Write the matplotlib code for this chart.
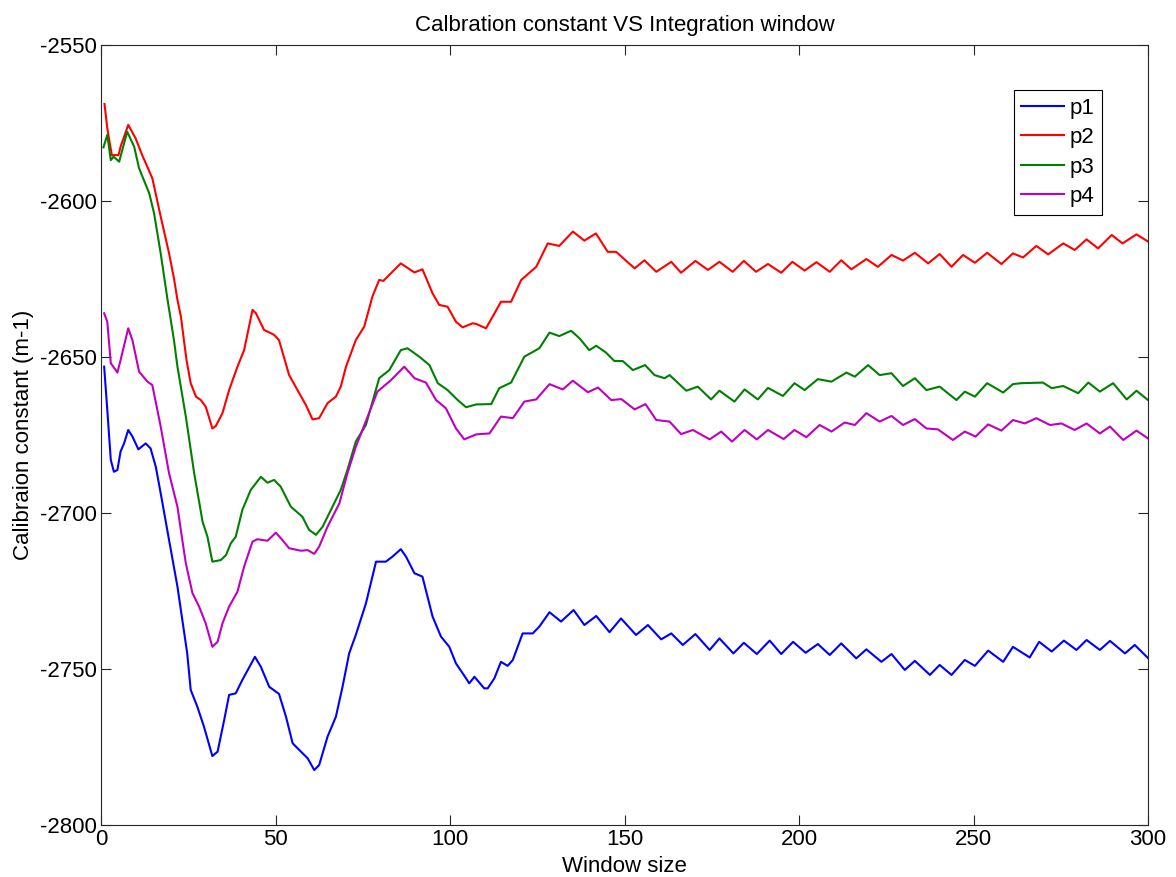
import matplotlib.pyplot as plt

plt.rcParams['font.family'] = ['Liberation Sans', 'DejaVu Sans']
plt.rcParams['axes.unicode_minus'] = False

p1_x = [0.9, 1.8, 2.8, 3.7, 4.7, 5.6, 6.6, 7.8, 9.0, 10.7, 12.8, 14.2, 15.7, 17.1, 19.5, 21.9, 23.3, 24.7,
        25.7, 27.6, 29.5, 31.9, 33.4, 35.3, 36.7, 38.6, 40.5, 44.1, 45.8, 48.2, 51.0, 53.0, 54.9, 57.3,
        59.2, 61.1, 62.5, 64.9, 67.3, 69.2, 71.1, 73.0, 75.9, 78.8, 81.6, 83.5, 85.9, 87.4, 89.8, 92.1,
        95.0, 97.4, 99.8, 101.7, 104.6, 105.5, 107.0, 109.8, 110.8, 112.7, 114.6, 116.5, 118.0, 120.8,
        123.7, 125.6, 128.5, 131.8, 135.4, 138.5, 141.9, 145.7, 149.0, 153.3, 156.7, 160.5, 163.4, 166.7,
        170.3, 174.4, 177.2, 181.2, 184.2, 187.9, 191.6, 194.9, 198.3, 201.9, 205.4, 208.8, 212.1, 216.4,
        219.3, 223.6, 226.5, 230.3, 233.2, 237.5, 240.3, 243.7, 247.5, 250.4, 254.2, 258.5, 261.3, 266.1,
        268.8, 272.4, 275.9, 279.5, 282.4, 286.2, 289.1, 293.4, 296.2, 300.0]
p1_y = [-2653.1, -2667.0, -2683.0, -2686.8, -2686.2, -2680.3, -2677.7, -2673.4, -2675.5, -2679.6, -2677.7,
        -2679.3, -2685.2, -2693.7, -2708.7, -2723.6, -2734.3, -2745.0, -2756.7, -2762.1, -2768.5, -2777.9,
        -2776.5, -2766.3, -2758.3, -2757.8, -2753.5, -2746.1, -2749.3, -2755.7, -2758.0, -2765.3, -2773.8,
        -2776.5, -2778.6, -2782.4, -2780.8, -2771.7, -2765.3, -2755.7, -2745.0, -2739.1, -2729.0, -2715.6,
        -2715.6, -2714.0, -2711.6, -2714.0, -2719.3, -2720.4, -2733.2, -2739.6, -2742.9, -2748.2, -2753.0,
        -2754.6, -2752.5, -2756.2, -2756.2, -2753.0, -2747.7, -2749.0, -2747.1, -2738.6, -2738.6, -2736.4,
        -2731.8, -2734.8, -2731.1, -2735.9, -2733.0, -2738.2, -2733.8, -2739.1, -2735.9, -2740.5, -2738.6,
        -2742.3, -2738.8, -2743.9, -2740.2, -2745.0, -2741.6, -2745.2, -2740.9, -2745.2, -2741.3, -2744.8,
        -2742.0, -2745.5, -2741.8, -2746.6, -2743.7, -2747.7, -2745.2, -2750.3, -2747.4, -2751.9, -2748.7,
        -2751.9, -2747.1, -2749.0, -2744.1, -2747.7, -2742.9, -2746.3, -2741.3, -2744.4, -2740.9, -2743.9,
        -2740.7, -2743.9, -2741.0, -2745.0, -2742.3, -2746.5]

p2_x = [1.0, 1.8, 3.1, 5.0, 5.6, 7.8, 9.9, 11.8, 14.7, 17.1, 19.5, 20.9, 21.9, 22.9, 23.8, 24.5, 25.7,
        27.2, 28.6, 30.0, 31.9, 32.9, 34.8, 36.7, 39.1, 41.0, 43.4, 44.4, 46.7, 49.6, 51.0, 53.9, 56.3,
        58.7, 60.6, 62.5, 64.9, 67.3, 68.7, 70.2, 73.0, 75.4, 77.8, 79.7, 80.9, 85.9, 89.8, 92.1, 95.0,
        96.9, 99.3, 101.7, 103.6, 106.5, 107.5, 110.3, 112.2, 114.6, 117.5, 120.4, 124.7, 128.0, 131.3,
        135.2, 138.5, 141.8, 145.2, 147.6, 152.9, 155.7, 159.1, 163.4, 166.2, 170.3, 173.9, 177.2, 181.0,
        184.2, 187.7, 191.1, 194.9, 198.1, 201.6, 205.0, 208.8, 212.1, 215.0, 219.3, 222.6, 226.5, 229.8,
        233.2, 237.0, 240.3, 243.7, 247.0, 250.4, 253.9, 258.0, 261.3, 264.2, 268.0, 271.4, 275.7, 279.0,
        282.4, 285.7, 289.6, 292.7, 296.7, 300.0]
p2_y = [-2568.9, -2576.7, -2585.3, -2585.3, -2582.6, -2575.6, -2579.9, -2585.3, -2592.7, -2605.0, -2616.8,
        -2624.8, -2631.7, -2637.1, -2645.0, -2651.0, -2658.4, -2662.7, -2663.8, -2665.9, -2672.9, -2672.1,
        -2668.0, -2660.6, -2653.1, -2647.8, -2634.9, -2636.0, -2641.3, -2642.9, -2644.6, -2655.8, -2660.6,
        -2665.4, -2670.0, -2669.6, -2664.8, -2662.7, -2659.5, -2653.1, -2644.6, -2640.3, -2630.5, -2625.3,
        -2625.6, -2620.0, -2622.9, -2621.9, -2629.6, -2633.3, -2633.9, -2638.7, -2640.5, -2639.2, -2639.4,
        -2640.8, -2637.1, -2632.3, -2632.3, -2625.3, -2621.1, -2613.6, -2614.4, -2609.8, -2612.7, -2610.4,
        -2616.3, -2616.3, -2621.6, -2619.0, -2622.7, -2619.5, -2623.0, -2619.2, -2622.1, -2619.5, -2622.7,
        -2619.2, -2622.7, -2620.2, -2623.0, -2619.5, -2622.3, -2619.6, -2622.7, -2619.0, -2621.9, -2618.6,
        -2621.1, -2617.3, -2619.1, -2616.6, -2620.0, -2617.0, -2621.1, -2617.3, -2619.8, -2616.6, -2620.2,
        -2616.8, -2618.1, -2614.4, -2617.1, -2613.6, -2615.7, -2612.3, -2615.2, -2610.9, -2613.6, -2610.7,
        -2613.0]

p3_x = [0.7, 1.8, 2.8, 3.6, 5.2, 7.5, 9.5, 10.9, 13.8, 15.2, 17.1, 19.0, 20.9, 21.9, 24.3, 26.7, 29.1,
        30.5, 31.9, 34.3, 35.8, 37.2, 38.6, 40.5, 42.9, 45.8, 47.7, 49.6, 51.5, 54.4, 57.7, 59.6, 61.6,
        63.5, 66.8, 68.7, 70.6, 73.0, 75.9, 79.7, 82.6, 85.9, 87.8, 91.2, 94.1, 96.5, 99.3, 102.2, 104.6,
        107.5, 111.8, 114.1, 117.5, 121.3, 125.6, 128.5, 131.3, 134.7, 137.1, 139.9, 141.9, 144.7, 147.1,
        149.5, 152.4, 155.9, 158.6, 161.5, 162.9, 167.7, 171.0, 174.8, 177.2, 181.5, 184.4, 188.2, 191.1,
        195.4, 198.7, 201.6, 205.4, 209.3, 213.6, 216.0, 219.8, 223.1, 226.5, 229.8, 233.2, 236.5, 240.3,
        245.1, 247.5, 250.4, 253.9, 258.5, 261.3, 263.6, 269.9, 272.4, 275.7, 280.0, 282.9, 286.2, 290.0,
        293.9, 296.7, 300.0]
p3_y = [-2582.8, -2578.8, -2586.9, -2585.8, -2587.4, -2577.8, -2582.6, -2589.5, -2597.5, -2603.9, -2616.8,
        -2631.2, -2644.6, -2653.1, -2669.1, -2687.3, -2702.8, -2707.6, -2715.6, -2715.1, -2713.5, -2709.7,
        -2707.6, -2699.0, -2692.6, -2688.4, -2690.3, -2689.4, -2691.6, -2698.0, -2701.2, -2705.4, -2707.0,
        -2704.4, -2696.9, -2692.6, -2686.2, -2677.1, -2671.8, -2656.8, -2654.2, -2647.8, -2647.2, -2649.9,
        -2652.6, -2658.4, -2660.6, -2663.8, -2666.1, -2665.2, -2665.1, -2660.0, -2658.2, -2649.9, -2647.2,
        -2642.2, -2643.3, -2641.6, -2644.0, -2647.8, -2646.4, -2648.6, -2651.3, -2651.3, -2654.2, -2652.6,
        -2655.8, -2656.8, -2655.8, -2660.8, -2659.5, -2663.6, -2660.8, -2664.3, -2660.4, -2663.6, -2659.9,
        -2662.5, -2658.4, -2660.6, -2657.1, -2657.9, -2655.0, -2656.3, -2652.6, -2655.8, -2655.2, -2659.3,
        -2656.8, -2660.6, -2659.5, -2663.8, -2661.1, -2662.7, -2658.4, -2661.4, -2658.7, -2658.4, -2658.2,
        -2660.0, -2659.3, -2661.6, -2658.2, -2661.1, -2658.4, -2663.6, -2660.8, -2663.8]

p4_x = [0.9, 1.8, 2.8, 4.7, 5.6, 7.8, 9.0, 10.9, 13.3, 14.7, 17.1, 19.5, 21.9, 23.3, 24.3, 26.2, 28.1,
        30.0, 31.9, 33.4, 34.8, 36.7, 39.1, 41.0, 43.4, 44.8, 47.7, 50.1, 52.0, 53.9, 57.3, 59.2, 61.1,
        62.5, 64.9, 68.3, 70.6, 73.0, 76.4, 79.2, 83.1, 86.9, 89.8, 93.1, 96.0, 98.8, 101.7, 104.1, 107.5,
        111.3, 114.6, 118.0, 121.3, 124.7, 128.5, 132.3, 135.2, 139.5, 142.4, 146.2, 149.1, 152.9, 156.0,
        159.1, 162.9, 166.2, 169.6, 174.4, 177.7, 180.8, 184.4, 187.9, 191.1, 195.6, 198.7, 202.1, 205.9,
        209.3, 213.1, 216.0, 219.3, 223.1, 226.5, 229.8, 233.2, 236.5, 239.8, 244.1, 247.5, 250.6, 254.2,
        258.0, 261.3, 264.7, 268.0, 271.9, 275.2, 279.0, 282.4, 286.2, 289.1, 292.9, 296.7, 300.0]
p4_y = [-2636.0, -2638.7, -2652.0, -2655.0, -2651.0, -2640.8, -2644.6, -2654.7, -2657.9, -2659.0, -2672.3,
        -2687.3, -2698.0, -2708.7, -2716.1, -2725.7, -2730.0, -2735.4, -2742.9, -2741.3, -2735.4, -2730.0,
        -2725.2, -2717.2, -2709.2, -2708.4, -2708.9, -2706.3, -2708.7, -2711.3, -2712.1, -2711.9, -2713.1,
        -2710.8, -2704.4, -2696.9, -2687.3, -2678.8, -2669.1, -2661.1, -2657.4, -2653.1, -2656.8, -2658.2,
        -2663.8, -2666.4, -2672.9, -2676.4, -2674.8, -2674.5, -2669.1, -2669.6, -2664.3, -2663.6, -2658.7,
        -2660.4, -2657.6, -2661.3, -2659.8, -2663.8, -2663.5, -2666.8, -2665.1, -2670.2, -2670.7, -2674.7,
        -2673.4, -2676.4, -2673.9, -2677.1, -2673.4, -2676.4, -2673.4, -2676.3, -2673.4, -2675.7, -2671.8,
        -2673.9, -2671.0, -2671.8, -2668.0, -2670.7, -2668.9, -2671.8, -2669.9, -2672.9, -2673.2, -2676.6,
        -2673.9, -2675.5, -2671.6, -2673.6, -2670.2, -2671.3, -2669.6, -2671.8, -2671.3, -2673.4, -2671.3,
        -2674.5, -2672.3, -2676.6, -2673.6, -2676.1]

fig = plt.figure(figsize=(11.76, 8.77), dpi=100)
ax = fig.add_axes([0.0859, 0.0593, 0.8903, 0.8894])

ax.plot(p1_x, p1_y, color='#0000ff', lw=1.5, label='p1')
ax.plot(p2_x, p2_y, color='#ff0000', lw=1.5, label='p2')
ax.plot(p3_x, p3_y, color='#008000', lw=1.5, label='p3')
ax.plot(p4_x, p4_y, color='#bf00bf', lw=1.5, label='p4')

ax.set_xlim(0, 300)
ax.set_ylim(-2800, -2550)
ax.set_xticks(range(0, 301, 50))
ax.set_yticks(range(-2800, -2549, 50))
ax.tick_params(direction='in', length=7, width=0.8, labelsize=16, top=True, right=True,
               color='#262626', pad=3)
for s in ax.spines.values():
    s.set_color('#262626')
    s.set_linewidth(0.8)

ax.set_title('Calbration constant VS Integration window', fontsize=16, pad=10)
ax.set_xlabel('Window size', fontsize=16, labelpad=4)
ax.set_ylabel('Calibraion constant (m-1)', fontsize=16, labelpad=4)

leg = ax.legend(loc='upper right', bbox_to_anchor=(0.9558, 0.9423), borderaxespad=0,
                fontsize=16, handlelength=1.9, handletextpad=0.25, labelspacing=0.38,
                borderpad=0.35, fancybox=False, framealpha=1)
leg.get_frame().set_edgecolor('black')
leg.get_frame().set_linewidth(0.8)

fig.savefig('out.png', dpi=100)
